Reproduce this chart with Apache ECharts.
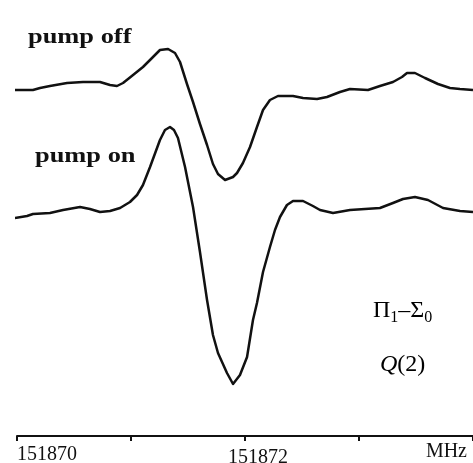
<!DOCTYPE html>
<html>
<head>
<meta charset="utf-8">
<script src="https://cdn.jsdelivr.net/npm/echarts@6/dist/echarts.min.js"></script>
<style>html,body{margin:0;padding:0;background:#fff}#c{width:473px;height:463px}</style>
</head>
<body>
<div id="c"></div>
<script>
// Frequency (MHz) and signal (arbitrary units) for the two traces
const offFreq = [151869.982,151870.140,151870.202,151870.289,151870.439,151870.579,151870.728,151870.816,151870.877,151870.930,151871.018,151871.105,151871.193,151871.254,151871.325,151871.386,151871.430,151871.491,151871.544,151871.605,151871.667,151871.719,151871.763,151871.825,151871.895,151871.930,151871.982,151872.044,151872.105,151872.158,151872.219,151872.289,151872.421,151872.509,151872.632,151872.719,151872.833,151872.921,151873.079,151873.184,151873.298,151873.377,151873.421,151873.491,151873.579,151873.693,151873.798,151873.886,151874.000];
const offSignal = [34.6,34.6,34.8,35.0,35.3,35.4,35.4,35.1,35.0,35.3,36.1,36.9,37.9,38.6,38.7,38.3,37.4,35.2,33.4,31.2,29.1,27.2,26.2,25.6,25.9,26.3,27.3,28.9,30.9,32.6,33.6,34.0,34.0,33.8,33.7,33.9,34.4,34.7,34.6,35.0,35.4,35.9,36.3,36.3,35.8,35.2,34.8,34.7,34.6];
const onFreq = [151869.982,151870.088,151870.140,151870.289,151870.404,151870.553,151870.640,151870.728,151870.816,151870.904,151870.991,151871.053,151871.105,151871.167,151871.254,151871.298,151871.342,151871.377,151871.412,151871.474,151871.544,151871.605,151871.667,151871.719,151871.763,151871.842,151871.895,151871.956,151872.018,151872.070,151872.105,151872.158,151872.219,151872.263,151872.307,151872.368,151872.421,151872.509,151872.596,151872.658,151872.772,151872.921,151873.184,151873.298,151873.386,151873.491,151873.605,151873.737,151873.886,151874.000];
const onSignal = [21.8,22.0,22.2,22.3,22.6,22.9,22.7,22.4,22.5,22.8,23.4,24.1,25.1,26.9,29.6,30.6,30.9,30.6,29.8,26.9,22.9,18.4,13.6,10.1,8.3,6.3,5.2,6.1,7.9,11.6,13.3,16.4,18.9,20.6,21.9,23.1,23.5,23.5,23.0,22.6,22.3,22.6,22.8,23.3,23.7,23.9,23.6,22.8,22.5,22.4];
const tickLabels = ['151870', '151872'];
const axisUnit = 'MHz';
const seriesNames = ['pump off', 'pump on'];

const pair = (xs, ys) => xs.map((x, i) => [x, ys[i]]);
const serif = 'Liberation Serif';

const chart = echarts.init(document.getElementById('c'), null, {renderer: 'canvas'});
chart.setOption({
  backgroundColor: '#fff',
  animation: false,
  grid: {left: 17, right: 0, top: 0, bottom: 27, containLabel: false, outerBoundsMode: 'none'},
  xAxis: {
    type: 'value', min: 151870, max: 151874, interval: 1,
    name: axisUnit, nameLocation: 'end', nameGap: -6,
    nameTextStyle: {fontFamily: serif, fontSize: 20, color: '#111', align: 'right', verticalAlign: 'top', padding: [6, 0, 0, 0]},
    axisLine: {lineStyle: {color: '#111', width: 2}},
    axisTick: {length: 5, lineStyle: {color: '#111', width: 2}},
    splitLine: {show: false},
    axisLabel: {
      margin: 9,
      formatter: v => {
        const s = String(Math.round(v));
        if (s === tickLabels[0]) return '{a|' + s + '}';
        if (s === tickLabels[1]) return '{b|' + s + '}';
        return '';
      },
      rich: {
        a: {fontFamily: serif, fontSize: 20, color: '#111', padding: [0, 0, 0, 60]},
        b: {fontFamily: serif, fontSize: 20, color: '#111', padding: [3, 0, 0, 26]}
      }
    }
  },
  yAxis: {type: 'value', min: 0, max: 43.6, show: false},
  series: [
    {name: seriesNames[0], type: 'line', data: pair(offFreq, offSignal), showSymbol: false, clip: false, smooth: false,
     lineStyle: {color: '#111', width: 2.5, join: 'round'}},
    {name: seriesNames[1], type: 'line', data: pair(onFreq, onSignal), showSymbol: false, clip: false, smooth: false,
     lineStyle: {color: '#111', width: 2.5, join: 'round'}}
  ],
  graphic: [
    {type: 'text', left: 28, top: 26, scaleX: 1.2, style: {text: seriesNames[0], font: 'bold 22px "Liberation Serif"', fill: '#111'}},
    {type: 'text', left: 35, top: 145, scaleX: 1.2, style: {text: seriesNames[1], font: 'bold 22px "Liberation Serif"', fill: '#111'}},
    {type: 'text', left: 373, top: 299, style: {
      text: '{a|Π}{s|1}{a|–Σ}{s|0}',
      rich: {
        a: {fontFamily: serif, fontSize: 24, color: '#111', lineHeight: 26, verticalAlign: 'top'},
        s: {fontFamily: serif, fontSize: 16, color: '#111', lineHeight: 18, verticalAlign: 'top', padding: [11, 0, 0, 0]}
      }}},
    {type: 'text', left: 380, top: 353, style: {
      text: '{i|Q}{a|(2)}',
      rich: {
        i: {fontFamily: serif, fontSize: 24, fontStyle: 'italic', color: '#111'},
        a: {fontFamily: serif, fontSize: 24, color: '#111'}
      }}}
  ]
});
</script>
</body>
</html>
